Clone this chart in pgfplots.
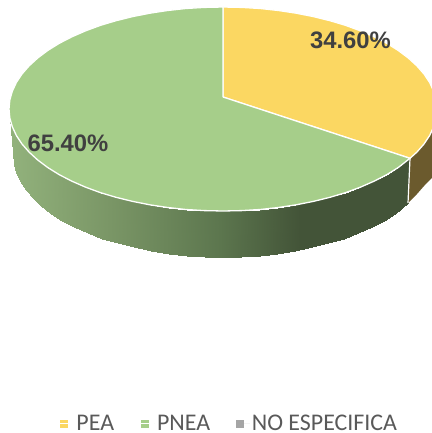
\documentclass[border=0pt]{standalone}
\usepackage{fontspec}
\setmainfont{Liberation Sans}
\newfontfamily\legendfont{Carlito}
\usepackage{pgfplots}
\pgfplotsset{compat=1.18}
\usepackage{pgfplotstable}
\definecolor{pea}{HTML}{FBD762}
\definecolor{pnea}{HTML}{A6CE8A}
\definecolor{noesp}{HTML}{A5A5A5}
\definecolor{peaside}{HTML}{6B5A2D}
\definecolor{lbl}{HTML}{404040}
\definecolor{legtxt}{HTML}{595959}

% side wall of the PNEA slice: upper rim, then lower rim
\pgfplotstableread{
x y
9.8 117.9
12.3 126.7
16.3 135.4
21.9 143.9
29.1 152.1
37.7 160.0
47.7 167.5
59.1 174.6
71.7 181.1
85.4 187.1
100.3 192.6
116.0 197.3
132.6 201.4
149.8 204.8
167.6 207.5
185.8 209.5
204.3 210.6
223.0 211.0
241.7 210.6
260.2 209.5
278.4 207.5
296.2 204.8
313.4 201.4
330.0 197.3
345.7 192.6
360.6 187.1
374.3 181.1
386.9 174.6
398.3 167.5
410.0 158.3
13.8 163.9
16.2 172.7
20.2 181.4
25.7 189.9
32.7 198.1
41.1 206.0
51.0 213.5
62.1 220.6
74.5 227.1
88.0 233.1
102.5 238.6
118.0 243.3
134.3 247.4
151.2 250.8
168.6 253.5
186.5 255.5
204.7 256.6
223.0 257.0
241.3 256.6
259.5 255.5
277.4 253.5
294.8 250.8
311.7 247.4
328.0 243.3
343.5 238.6
358.0 233.1
371.5 227.1
383.9 220.6
395.0 213.5
408.0 203.0
}\wallgreen

\begin{document}
\begin{tikzpicture}
\useasboundingbox (0,0) rectangle (432bp,433bp);
\begin{axis}[
  at={(0,0)}, anchor=south west,
  width=432bp, height=433bp, scale only axis,
  xmin=0, xmax=432, ymin=0, ymax=433, y dir=reverse,
  hide axis,
  colormap={wall}{rgb255(10pt)=(146,178,124) rgb255(110pt)=(122,150,102) rgb255(220pt)=(92,118,78) rgb255(300pt)=(67,84,56) rgb255(410pt)=(67,84,56)},
  point meta min=10, point meta max=410,
  legend columns=-1,
  legend style={at={(axis cs:59.5,423.5)}, anchor=west, draw=none, fill=none,
    font=\legendfont\fontsize{24}{28}\selectfont, text=legtxt,
    inner xsep=0pt, inner ysep=0pt,
    /tikz/every even column/.append style={column sep=24.2bp}},
  legend image code/.code={\path[#1,draw=none] (0bp,-4bp) rectangle (8bp,4bp); \path (0bp,0bp) -- (13.5bp,0bp);},
]
\addplot[forget plot, surf, shader=interp, mesh/rows=2, point meta=x] table {\wallgreen};
\addplot[forget plot, fill=peaside, draw=none] coordinates {
  (410,158.3) (416.9,152.1) (424.1,143.9) (429.7,135.4) (433.7,126.7)
  (433.7,176) (424,186) (417,194) (408,203)};
\addplot[forget plot, white, line width=1.2bp] coordinates {(410,158.3) (408,203)};

\addplot[fill=pea, draw=white, line width=1.3bp, line join=round] coordinates {
  (223,97) (223,7) (241.7,7.4) (260.2,8.5) (278.4,10.5) (296.2,13.2) (313.4,16.6)
  (330,20.7) (345.7,25.4) (360.6,30.9) (374.3,36.9) (386.9,43.4) (398.3,50.5)
  (408.3,58) (416.9,65.9) (424.1,74.1) (429.7,82.6) (433.7,91.3) (436.2,100.1)
  (437,109) (436.2,117.9) (433.7,126.7) (429.7,135.4) (424.1,143.9) (416.9,152.1)
  (410,158.3) (223,97)};
\addlegendentry{PEA}

\addplot[fill=pnea, draw=white, line width=1.3bp, line join=round] coordinates {
  (223,97) (223,7) (204.3,7.4) (185.8,8.5) (167.6,10.5) (149.8,13.2) (132.6,16.6)
  (116,20.7) (100.3,25.4) (85.4,30.9) (71.7,36.9) (59.1,43.4) (47.7,50.5) (37.7,58)
  (29.1,65.9) (21.9,74.1) (16.3,82.6) (12.3,91.3) (9.8,100.1) (9,109) (9.8,117.9)
  (12.3,126.7) (16.3,135.4) (21.9,143.9) (29.1,152.1) (37.7,160) (47.7,167.5)
  (59.1,174.6) (71.7,181.1) (85.4,187.1) (100.3,192.6) (116,197.3) (132.6,201.4)
  (149.8,204.8) (167.6,207.5) (185.8,209.5) (204.3,210.6) (223,211) (241.7,210.6)
  (260.2,209.5) (278.4,207.5) (296.2,204.8) (313.4,201.4) (330,197.3) (345.7,192.6)
  (360.6,187.1) (374.3,181.1) (386.9,174.6) (398.3,167.5) (410,158.3) (223,97)};
\addlegendentry{PNEA}

% no slice of its own, only a legend entry
\addplot[fill=noesp, draw=none] coordinates {(223,97)};
\addlegendentry{NO ESPECIFICA}

\node[font=\bfseries\fontsize{23.9}{28}\selectfont, text=lbl] at (axis cs:350.5,40) {34.60\%};
\node[font=\bfseries\fontsize{23.9}{28}\selectfont, text=lbl] at (axis cs:68,143) {65.40\%};
\end{axis}
\end{tikzpicture}
\end{document}
